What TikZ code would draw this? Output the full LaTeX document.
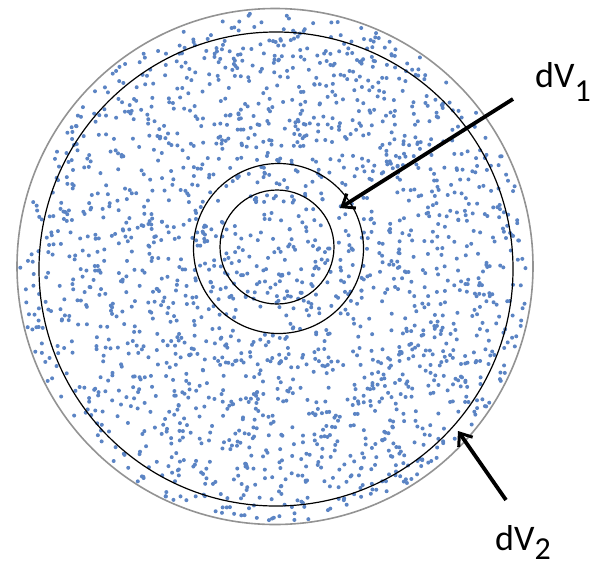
\documentclass[tikz,border=0pt]{standalone}
\usepackage{fontspec}
\setmainfont{Carlito}
\usepackage{tikz}
\usetikzlibrary{arrows.meta,calc}
\definecolor{dotblue}{HTML}{5B84C4}
\newcommand{\lowsub}[2][14pt]{\raisebox{-#1}{\fontsize{32}{36}\selectfont #2}}

\begin{document}
\begin{tikzpicture}[x=1pt, y=-1pt,
  shell/.style={draw=black, line width=1.2pt},
  rim/.style={draw=gray!85, line width=1.6pt},
  lab/.style={font=\fontsize{36}{40}\selectfont, anchor=base west, inner sep=0pt},
  arr/.style={-{Straight Barb[length=11pt, width=17pt, line width=3pt]}, line width=3.8pt}]
\useasboundingbox (0,0) rectangle (601,568);
% scattered particles
\pgfmathsetseed{2718}
\foreach \i in {1,...,2000} {
  \pgfmathsetmacro\rr{255*sqrt(rnd)}
  \pgfmathsetmacro\aa{360*rnd}
  \fill[dotblue] ($(275,266.5)+(\aa:\rr)$) circle (2.0);
}
\draw[rim] (275,266.5) circle (258);
\draw[shell] (276,269) circle (237);
\draw[shell] (278.5,248.5) circle (85);
\draw[shell] (277,247) circle (57);
% labels and arrows
\node[lab] (dv1) at (535,87) {dV\lowsub{1}};
\node[lab] (dv2) at (495,550) {dV\lowsub[9pt]{2}};
\coordinate (tail1) at (513,99);
\coordinate (tip1) at (340,208);
\coordinate (tail2) at (506,500);
\coordinate (tip2) at (458,431);
\draw[arr] (tail1) -- (tip1);
\draw[arr] (tail2) -- (tip2);
\end{tikzpicture}
\end{document}
